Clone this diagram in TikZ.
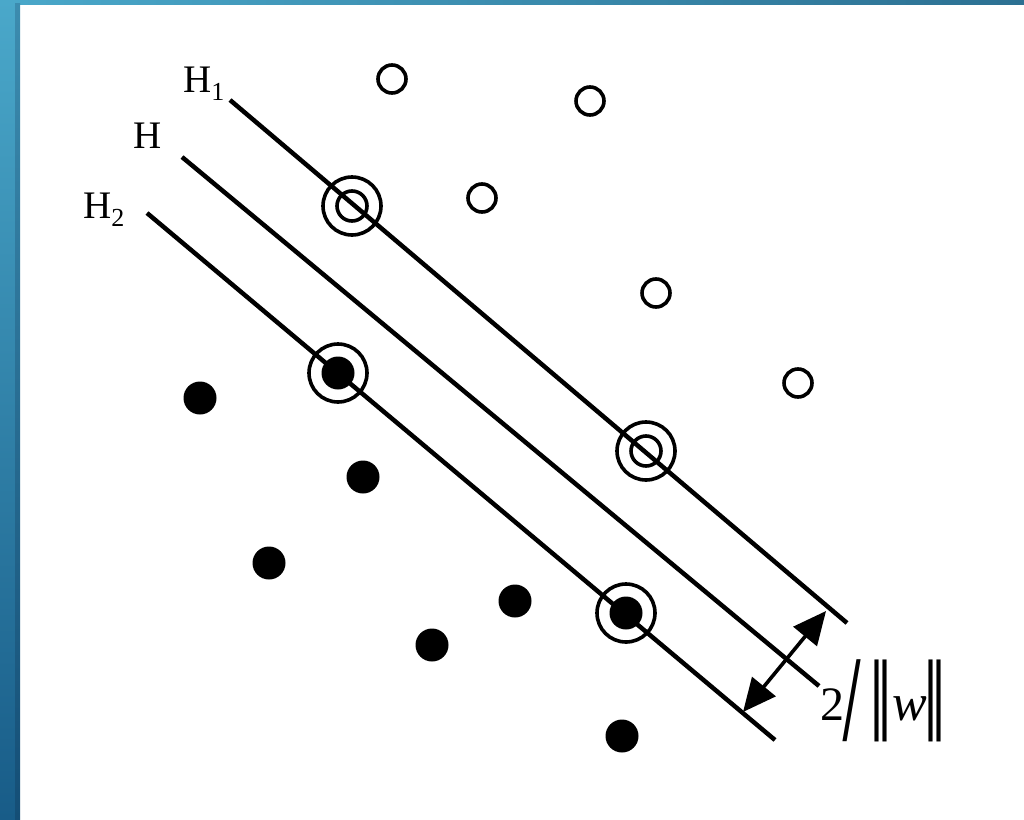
\documentclass[tikz,border=0pt]{standalone}
\usepackage{fontspec}
\usepackage{graphicx}
\setmainfont{Liberation Serif}
\usetikzlibrary{arrows.meta}
\definecolor{bluetop}{RGB}{74,168,202}
\definecolor{bluebot}{RGB}{24,92,136}
\definecolor{bluetopd}{RGB}{60,140,175}
\definecolor{bluebotd}{RGB}{20,78,118}
\definecolor{bluerightd}{RGB}{44,112,146}
\tikzset{
  sep/.style={line width=4.5pt, line cap=butt},
  opendot/.style={circle, draw, line width=3.6pt, minimum size=28pt, inner sep=0pt},
  fulldot/.style={circle, fill, minimum size=33pt, inner sep=0pt},
  ring/.style={circle, draw, line width=3.6pt, minimum size=58pt, inner sep=0pt},
  lab/.style={font=\fontsize{39}{46}\selectfont, inner sep=0pt, anchor=base west},
  marg/.style={line width=3.6pt, {Triangle[length=33pt,width=30pt]}-{Triangle[length=33pt,width=30pt]}}
}
\newcommand{\subone}[1]{\raisebox{-0.22em}{\fontsize{26}{30}\selectfont #1}}
% tall glyph: width, glyph
\newcommand{\tallglyph}[2]{\raisebox{-22pt}{\resizebox*{#1}{82pt}{\raisebox{\depth}{#2}}}}
\newcommand{\at}[2]{\rlap{\kern#1pt #2}}
\begin{document}
\begin{tikzpicture}[x=1pt,y=-1pt]
\useasboundingbox (0,0) rectangle (1024,819);
\fill[white] (0,0) rectangle (1024,819);
% blue frame
\shade[left color=bluetop, right color=bluerightd] (0,0) rectangle (1024,4.5);
\shade[top color=bluetop, bottom color=bluebot] (0,0) rectangle (15,819);
\shade[top color=bluetopd, bottom color=bluebotd] (15,3) rectangle (20,819);

% support vectors
\node[ring] (s1) at (352,206) {};
\node[opendot, minimum size=30pt] (s1i) at (352,206) {};
\node[ring] (s2) at (646,451) {};
\node[opendot, minimum size=30pt] (s2i) at (646,451) {};
\node[ring] (s3) at (338,373) {};
\node[fulldot] (s3i) at (338,373) {};
\node[ring] (s4) at (626,613) {};
\node[fulldot] (s4i) at (626,613) {};

% hyperplane end points
\coordinate (h1a) at (230,100);
\coordinate (h1b) at (847,623);
\coordinate (ha) at (182,157);
\coordinate (hb) at (819,686);
\coordinate (h2a) at (147,213);
\coordinate (h2b) at (775,740);
\draw[sep] (h1a) -- (h1b);
\draw[sep] (ha) -- (hb);
\draw[sep] (h2a) -- (h2b);

% open points
\node[opendot] (o1) at (392,79) {};
\node[opendot] (o2) at (590,101) {};
\node[opendot] (o3) at (482,198) {};
\node[opendot] (o4) at (656,293) {};
\node[opendot] (o5) at (798,383) {};

% filled points
\node[fulldot] (f1) at (200,398) {};
\node[fulldot] (f2) at (363,477) {};
\node[fulldot] (f3) at (269,563) {};
\node[fulldot] (f4) at (515,601) {};
\node[fulldot] (f5) at (432,645) {};
\node[fulldot] (f6) at (622,736) {};

% labels
\node[lab] (lh1) at (183,92) {H\subone{1}};
\node[lab] (lh) at (133,148) {H};
\node[lab] (lh2) at (83,218) {H\subone{2}};

% margin arrow
\coordinate (m1) at (743,712);
\coordinate (m2) at (826,611);
\draw[marg] (m1) -- (m2);
\node[inner sep=0pt, anchor=base west, font=\fontsize{48}{56}\selectfont] (lm) at (820,720)
  {\hbox{\at{0}{2}\at{23}{\tallglyph{17pt}{\bfseries/}}%
   \at{50}{\tallglyph{13pt}{\bfseries|}}\at{58}{\tallglyph{13pt}{\bfseries|}}%
   \at{72}{\fontsize{52}{60}\selectfont\itshape w}%
   \at{104}{\tallglyph{13pt}{\bfseries|}}\at{112}{\tallglyph{13pt}{\bfseries|}}\kern125pt}};
\end{tikzpicture}
\end{document}
